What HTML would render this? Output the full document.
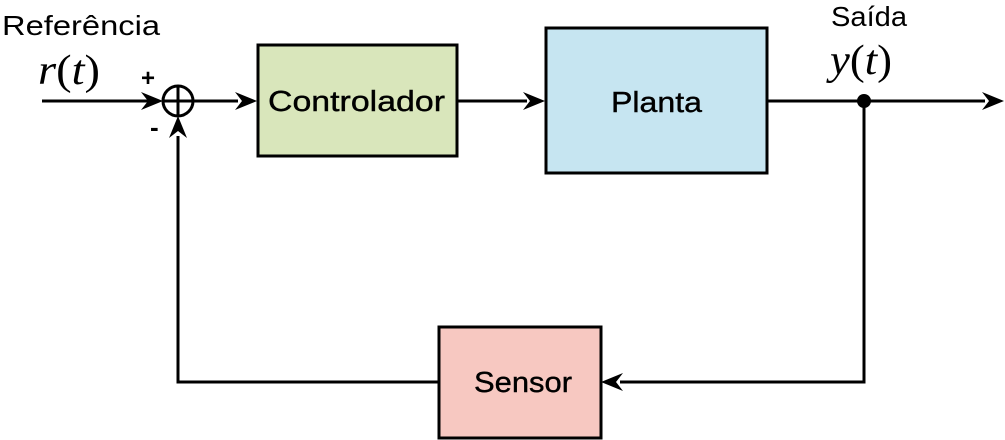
<!DOCTYPE html>
<html><head><meta charset="utf-8"><style>
html,body{margin:0;padding:0;background:#fff;width:1005px;height:440px;overflow:hidden}
svg{display:block}
text{font-family:"Liberation Sans",sans-serif;fill:#000}
.m{font-family:"Liberation Serif",serif}
.b{stroke:#000;stroke-width:0.4}
</style></head><body>
<svg width="1005" height="440" viewBox="0 0 1005 440">
<g stroke="#000" stroke-width="3" fill="none">
<rect x="258" y="45" width="199" height="111" fill="#d9e6bb"/>
<rect x="546" y="28" width="221" height="145" fill="#c6e5f1"/>
<rect x="439" y="327" width="162" height="111" fill="#f7c8c1"/>
<circle cx="178" cy="101" r="15" fill="#fff"/>
<line x1="163" y1="101" x2="193" y2="101"/>
<line x1="178" y1="86" x2="178" y2="116"/>
<line x1="42" y1="101" x2="150" y2="101"/>
<line x1="193" y1="101" x2="238" y2="101"/>
<line x1="457" y1="101" x2="527" y2="101"/>
<line x1="767" y1="101" x2="985" y2="101"/>
<polyline points="864,101 864,382 620,382"/>
<polyline points="439,382 178,382 178,136"/>
</g>
<g fill="#000">
<polygon points="163,101 141,92 148,101 141,110"/>
<polygon points="257,101 235,92 242,101 235,110"/>
<polygon points="545,101 523,92 530,101 523,110"/>
<polygon points="1004,101 982,92 989,101 982,110"/>
<polygon points="601,382 623,373 616,382 623,391"/>
<polygon points="178,116 169,138 178,131 187,138"/>
<circle cx="864" cy="101" r="7"/>
</g>
<text x="2" y="35" font-size="28" textLength="158" lengthAdjust="spacingAndGlyphs">Referência</text>
<text x="38" y="84" font-size="42" class="m" textLength="62" lengthAdjust="spacingAndGlyphs"><tspan font-style="italic">r</tspan>(<tspan font-style="italic">t</tspan>)</text>
<text x="141" y="86" font-size="24" font-weight="bold">+</text>
<text x="150" y="136" font-size="26" font-weight="bold">-</text>
<text x="831" y="26" font-size="28" textLength="76" lengthAdjust="spacingAndGlyphs">Saída</text>
<text x="830" y="74" font-size="42" class="m" textLength="62" lengthAdjust="spacingAndGlyphs"><tspan font-style="italic">y</tspan>(<tspan font-style="italic">t</tspan>)</text>
<text x="268" y="111" font-size="29" class="b" textLength="177" lengthAdjust="spacingAndGlyphs">Controlador</text>
<text x="611" y="112" font-size="29" class="b" textLength="91" lengthAdjust="spacingAndGlyphs">Planta</text>
<text x="474" y="392" font-size="29" class="b" textLength="98" lengthAdjust="spacingAndGlyphs">Sensor</text>
</svg>
</body></html>
